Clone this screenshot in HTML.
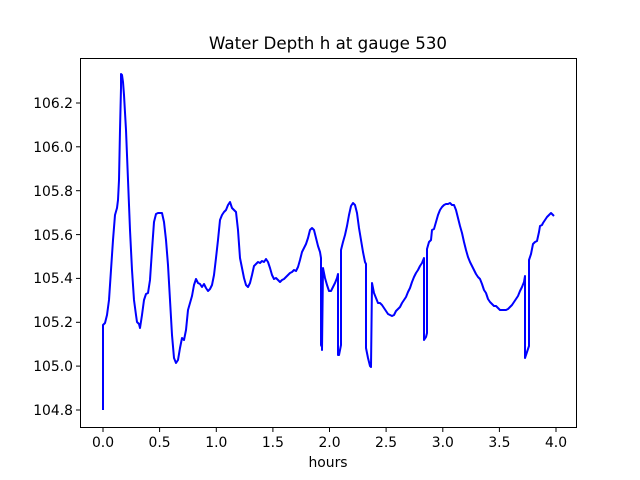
<!DOCTYPE html>
<html><head><style>body{margin:0;background:#fff}svg{display:block}text{font-family:"DejaVu Sans","Liberation Sans",sans-serif;font-size:13.9px;fill:#000}</style></head><body>
<svg width="640" height="480" viewBox="0 0 640 480">
<rect width="640" height="480" fill="#fff"/>
<text x="328" y="49" text-anchor="middle" style="font-size:16.7px">Water Depth h at gauge 530</text>
<polyline fill="none" stroke="#0000ff" stroke-width="2" stroke-linejoin="round" points="103,410 103,325 105,323 107,315 109,300 111,270 113,240 115,215 117,208 118,200 119,180 120,130 121,88 121,74 122,75 123,82 124,95 126,130 128,180 130,230 132,270 134,300 136,315 137,322 139,324 140,328 142,315 144,300 146,294 148,293 150,280 152,250 154,222 156,214 158,213 160,213 162,213 164,222 166,240 168,265 170,300 172,335 174,358 176,363 178,360 180,348 182,338 184,340 186,330 188,310 190,303 192,296 194,285 196,279 198,283 200,284 202,287 204,284 206,288 208,291 210,289 212,285 214,275 216,258 218,240 220,220 222,215 224,212 226,210 228,205 230,202 232,208 234,210 236,212 238,230 240,258 242,268 244,278 246,285 248,287 250,283 252,275 254,266 256,264 258,262 260,263 262,261 264,262 266,259 268,262 270,268 272,275 274,279 276,278 278,280 280,282 282,280 284,279 286,277 288,275 290,273 292,272 294,270 296,271 298,267 300,260 302,252 304,248 306,244 308,238 310,230 312,228 314,230 316,238 318,246 320,252 321,258 321,345 322,347 322,350 323,268 325,278 327,285 329,291 331,291 333,287 335,283 337,278 338,274 338,355 339,355 341,345 341,250 343,242 345,235 347,226 349,215 351,206 353,203 355,205 357,213 359,228 361,240 363,252 365,262 366,264 366,348 368,358 370,366 371,367 372,283 374,293 376,298 378,303 380,303 382,305 384,308 386,311 388,314 390,315 392,316 394,315 396,311 398,309 400,307 402,303 404,300 406,297 408,292 410,288 412,282 414,277 416,273 418,270 420,266 422,263 424,258 424,340 426,337 427,333 427,249 429,242 431,240 432,230 434,229 436,222 438,215 440,210 442,207 444,205 446,204 448,204 450,203 452,205 454,205 456,210 458,218 460,226 462,233 464,242 466,250 468,257 470,262 472,266 474,270 476,274 478,277 480,279 482,284 484,290 486,293 488,299 490,302 492,304 494,306 496,306 498,308 500,310 502,310 504,310 506,310 508,309 510,307 512,305 514,302 516,299 518,296 520,291 522,287 524,282 525,276 525,358 527,352 529,346 529,260 531,254 533,244 535,242 537,241 539,232 540,226 542,225 543,223 545,220 547,217 549,215 551,213 553,215 554,216"/>
<rect x="80.5" y="58.5" width="496" height="369" fill="none" stroke="#000" stroke-width="1"/>
<g stroke="#000" stroke-width="1">
<line x1="103" y1="428" x2="103" y2="432"/><line x1="159.6" y1="428" x2="159.6" y2="432"/><line x1="216.3" y1="428" x2="216.3" y2="432"/><line x1="272.9" y1="428" x2="272.9" y2="432"/><line x1="329.5" y1="428" x2="329.5" y2="432"/><line x1="386.1" y1="428" x2="386.1" y2="432"/><line x1="442.8" y1="428" x2="442.8" y2="432"/><line x1="499.4" y1="428" x2="499.4" y2="432"/><line x1="556" y1="428" x2="556" y2="432"/>
<line x1="76" y1="410" x2="80" y2="410"/><line x1="76" y1="366.1" x2="80" y2="366.1"/><line x1="76" y1="322.3" x2="80" y2="322.3"/><line x1="76" y1="278.4" x2="80" y2="278.4"/><line x1="76" y1="234.6" x2="80" y2="234.6"/><line x1="76" y1="190.7" x2="80" y2="190.7"/><line x1="76" y1="146.8" x2="80" y2="146.8"/><line x1="76" y1="103" x2="80" y2="103"/>
</g>
<g text-anchor="middle">
<text x="103" y="447">0.0</text><text x="159.6" y="447">0.5</text><text x="216.3" y="447">1.0</text><text x="272.9" y="447">1.5</text><text x="329.5" y="447">2.0</text><text x="386.1" y="447">2.5</text><text x="442.8" y="447">3.0</text><text x="499.4" y="447">3.5</text><text x="556" y="447">4.0</text>
<text x="328" y="467">hours</text>
</g>
<g text-anchor="end">
<text x="73" y="415">104.8</text><text x="73" y="371">105.0</text><text x="73" y="327">105.2</text><text x="73" y="283">105.4</text><text x="73" y="240">105.6</text><text x="73" y="196">105.8</text><text x="73" y="152">106.0</text><text x="73" y="108">106.2</text>
</g>
</svg>
</body></html>
